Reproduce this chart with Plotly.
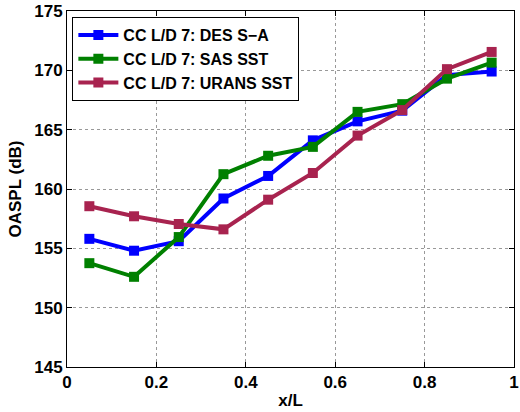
import plotly.graph_objects as go

x_vals = [0.05, 0.15, 0.25, 0.35, 0.45, 0.55, 0.65, 0.75, 0.85, 0.95]
des_sa = [155.8, 154.8, 155.6, 159.2, 161.1, 164.1, 165.7, 166.6, 169.6, 169.9]
sas_sst = [153.75, 152.6, 155.95, 161.25, 162.8, 163.55, 166.5, 167.15, 169.3, 170.65]
urans_sst = [158.55, 157.7, 157.05, 156.6, 159.1, 161.35, 164.5, 166.65, 170.1, 171.55]

names = ["CC L/D 7: DES S\u2212A", "CC L/D 7: SAS SST", "CC L/D 7: URANS SST"]
colors = ["#0000FF", "#008000", "#A8234F"]
series = [des_sa, sas_sst, urans_sst]

x_ticks = [0, 0.2, 0.4, 0.6, 0.8, 1]
x_ticklabels = ["0", "0.2", "0.4", "0.6", "0.8", "1"]
y_ticks = [145, 150, 155, 160, 165, 170, 175]

font_family = "Liberation Sans, Arial, Helvetica, sans-serif"
fsize = 17

fig = go.Figure()
for name, col, ys in zip(names, colors, series):
    fig.add_trace(go.Scatter(
        x=x_vals, y=ys, name=name, mode="lines+markers",
        line=dict(color=col, width=4),
        marker=dict(symbol="square", size=10, color=col),
    ))

axis_common = dict(
    showline=True, linecolor="black", linewidth=1, mirror="ticks",
    ticks="inside", ticklen=5, tickcolor="black",
    showgrid=True, gridcolor="#999999", griddash="dot", gridwidth=1,
    zeroline=False, automargin=False, ticklabeloverflow="allow",
    tickfont=dict(family=font_family, size=fsize, color="black", weight="bold"),
)

fig.update_layout(
    width=520, height=412,
    margin=dict(l=67, r=6, t=11, b=45),
    paper_bgcolor="white", plot_bgcolor="white",
    font=dict(family=font_family, color="black"),
    showlegend=True,
    legend=dict(
        x=0.012, y=0.983, xanchor="left", yanchor="top",
        bgcolor="white", bordercolor="black", borderwidth=1,
        font=dict(family=font_family, size=16, color="black", weight="bold"),
        tracegroupgap=0, itemwidth=40,
    ),
    xaxis=dict(
        range=[0, 1.00001], tickvals=x_ticks, ticktext=x_ticklabels,
        title=dict(text="x/L", standoff=2,
                   font=dict(family=font_family, size=fsize, color="black", weight="bold")),
        **axis_common,
    ),
    yaxis=dict(
        range=[145, 175.00001], tickvals=y_ticks,
        title=dict(text="OASPL (dB)", standoff=8,
                   font=dict(family=font_family, size=fsize, color="black", weight="bold")),
        **axis_common,
    ),
)

fig.write_html("out.html")
